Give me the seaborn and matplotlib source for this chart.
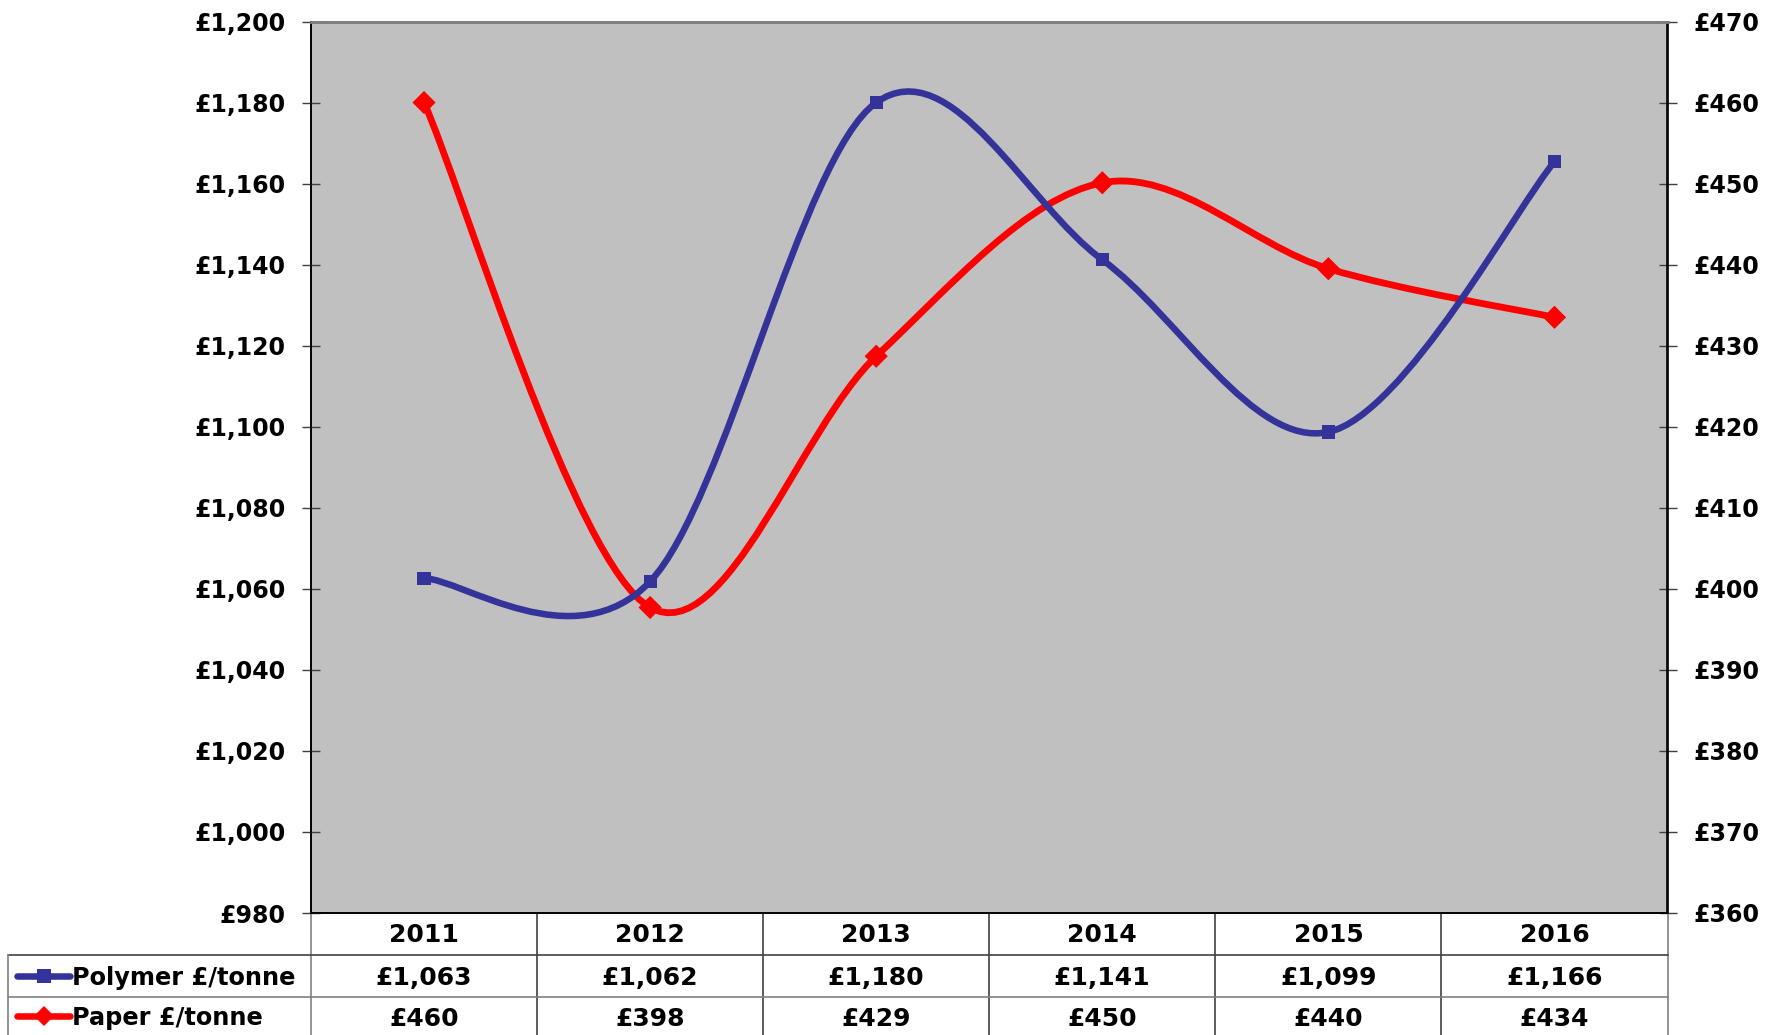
import numpy as np
import pandas as pd
import matplotlib
matplotlib.use("Agg")
import matplotlib.pyplot as plt
import seaborn as sns
from matplotlib.path import Path
from matplotlib.patches import PathPatch
from matplotlib.lines import Line2D
import matplotlib.transforms as mtransforms

years = [2011, 2012, 2013, 2014, 2015, 2016]
polymer = [1062.6, 1061.8, 1180.0, 1141.2, 1098.7, 1165.4]
paper = [460.0, 397.7, 428.7, 450.1, 439.5, 433.5]
polymer_labels = ["£1,063", "£1,062", "£1,180", "£1,141", "£1,099", "£1,166"]
paper_labels = ["£460", "£398", "£429", "£450", "£440", "£434"]
left_ticks = list(range(980, 1201, 20))
right_ticks = list(range(360, 471, 10))
series_names = ["Polymer £/tonne", "Paper £/tonne"]

BLUE = "#333399"
RED = "#FF0000"
BG = "#C0C0C0"

sns.set_theme(style="white")
plt.rcParams["font.family"] = ["DejaVu Sans"]

W, H = 1778, 1035
fig = plt.figure(figsize=(W / 100, H / 100), dpi=100)
fig.patch.set_facecolor("white")

L, R, T, B = 311, 1667.5, 21.5, 913
ax = fig.add_axes([L / W, 1 - B / H, (R - L) / W, (B - T) / H])
ax2 = ax.twinx()
# polymer (left axis) drawn above paper: put ax on top, grey background on ax2
ax.set_zorder(ax2.get_zorder() + 1)
ax.patch.set_visible(False)
ax2.patch.set_visible(True)
ax2.patch.set_facecolor(BG)


def smooth_path(x, y):
    x = np.asarray(x, float)
    y = np.asarray(y, float)
    n = len(x)
    verts = [(x[0], y[0])]
    codes = [Path.MOVETO]
    for i in range(n - 1):
        a = i - 1 if i > 0 else i
        d = i + 2 if i + 2 < n else i + 1
        c1 = (x[i] + (x[i + 1] - x[a]) / 6, y[i] + (y[i + 1] - y[a]) / 6)
        c2 = (x[i + 1] - (x[d] - x[i]) / 6, y[i + 1] - (y[d] - y[i]) / 6)
        verts += [c1, c2, (x[i + 1], y[i + 1])]
        codes += [Path.CURVE4] * 3
    return Path(verts, codes)


ax.add_patch(PathPatch(smooth_path(years, polymer), facecolor="none",
                       edgecolor=BLUE, lw=4.7, capstyle="round", joinstyle="round", zorder=3))
sns.scatterplot(x=years, y=polymer, marker="s", color=BLUE, s=90, edgecolor="none",
                ax=ax, zorder=4, legend=False)

ax2.add_patch(PathPatch(smooth_path(years, paper), facecolor="none",
                        edgecolor=RED, lw=4.9, capstyle="round", joinstyle="round", zorder=3))
sns.scatterplot(x=years, y=paper, marker="D", color=RED, s=140, edgecolor="none",
                ax=ax2, zorder=4, legend=False)

ax.set_xlim(2010.5, 2016.5)
ax.set_ylim(980, 1200)
ax2.set_ylim(360, 470)
ax.set_xticks([])
ax2.set_xticks([])
ax.set_xlabel("")
ax.set_ylabel("")
ax2.set_ylabel("")

ax.set_yticks(left_ticks)
ax.set_yticklabels([f"£{v:,}" for v in left_ticks], fontsize=17, fontweight="bold", color="black")
ax2.set_yticks(right_ticks)
ax2.set_yticklabels([f"£{v:,}" for v in right_ticks], fontsize=17, fontweight="bold", color="black")
ax.tick_params(axis="y", direction="inout", length=13, width=1, color="#404040", pad=12, left=True)
ax2.tick_params(axis="y", direction="inout", length=13, width=1, color="#404040", pad=12, right=True)

for a in (ax, ax2):
    for s in a.spines.values():
        s.set_visible(True)
        s.set_color("black")
        s.set_linewidth(1.2)
    a.spines["top"].set_color("#808080")
    a.spines["top"].set_linewidth(2)

# ---- data table below the plot ----
tfont = ["DejaVu Sans"]
blend = mtransforms.blended_transform_factory(ax.transData, fig.transFigure)


def fy(px):
    return 1 - px / H


def fx(px):
    return px / W


row_centers = [935, 978, 1019]
for yr in years:
    ax.text(yr, fy(row_centers[0]), str(yr), transform=blend, ha="center", va="center",
            fontsize=18, fontweight="bold", family=tfont, color="black", clip_on=False)
for yr, lab in zip(years, polymer_labels):
    ax.text(yr, fy(row_centers[1]), lab, transform=blend, ha="center", va="center",
            fontsize=18, fontweight="bold", family=tfont, color="black", clip_on=False)
for yr, lab in zip(years, paper_labels):
    ax.text(yr, fy(row_centers[2]), lab, transform=blend, ha="center", va="center",
            fontsize=18, fontweight="bold", family=tfont, color="black", clip_on=False)

# vertical lines of the table
for xb in np.arange(years[0] - 0.5, years[-1] + 1.0, 1.0):
    col = "#808080" if xb in (years[0] - 0.5, years[-1] + 0.5) else "#404040"
    ax.add_line(Line2D([xb, xb], [fy(913), fy(1040)], transform=blend, color=col,
                       lw=1.2, clip_on=False))
# horizontal lines
for yy, c in ((955, "#404040"), (997, "#808080")):
    fig.add_artist(Line2D([fx(8), fx(R)], [fy(yy), fy(yy)], color=c, lw=1.2))
fig.add_artist(Line2D([fx(8), fx(8)], [fy(955), fy(1040)], color="#808080", lw=1.2))

# legend keys inside the table
for (name, col, mk, ms), yc in zip(
        [(series_names[0], BLUE, "s", 9.5), (series_names[1], RED, "D", 10)],
        [976, 1016]):
    fig.add_artist(Line2D([fx(17), fx(70)], [fy(yc), fy(yc)], color=col, lw=4.7,
                          solid_capstyle="round"))
    fig.add_artist(Line2D([fx(44)], [fy(yc)], color=col, marker=mk, markersize=ms,
                          markeredgewidth=0, linestyle="none"))
    fig.text(fx(72), fy(yc + 2), name, ha="left", va="center", fontsize=17.3,
             fontweight="bold", family=tfont, color="black")

fig.savefig("out.png", dpi=100, facecolor="white")
